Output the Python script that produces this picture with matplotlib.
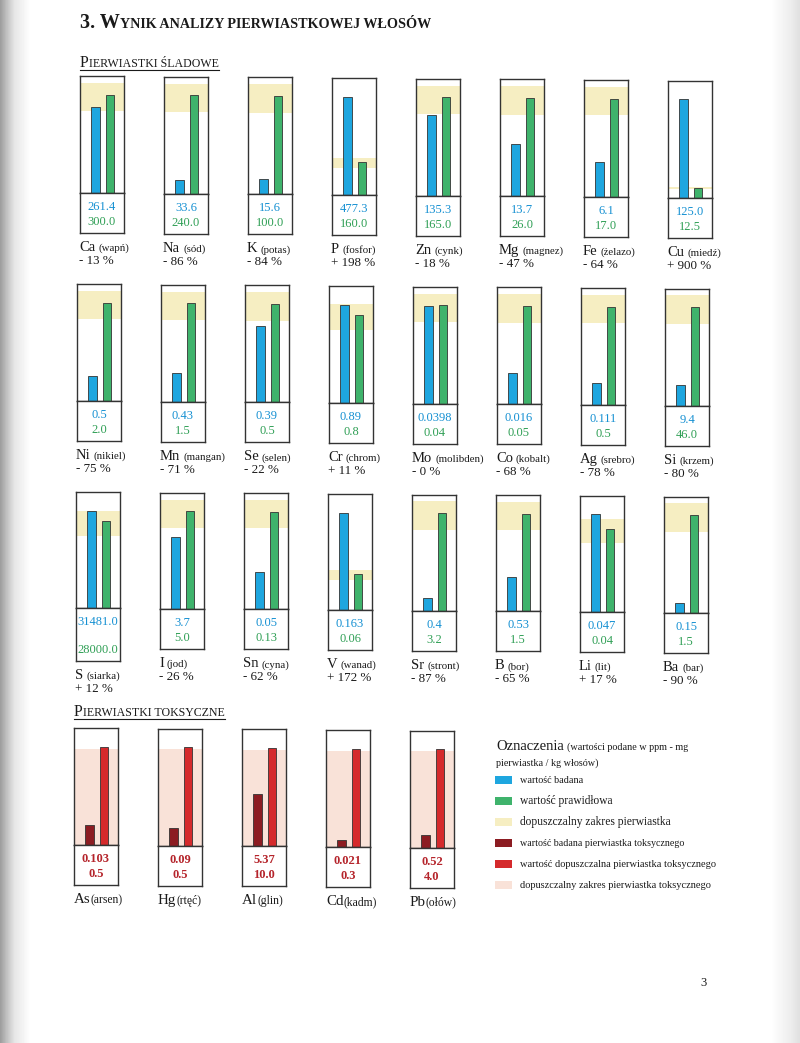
import numpy as np
import matplotlib
matplotlib.use("Agg")
import matplotlib.pyplot as plt
from matplotlib.lines import Line2D
from matplotlib.patches import Rectangle

# --- dane: pierwiastki śladowe (3 rzędy po 8) ---
trace_symbols = [
    ["Ca", "Na", "K", "P", "Zn", "Mg", "Fe", "Cu"],
    ["Ni", "Mn", "Se", "Cr", "Mo", "Co", "Ag", "Si"],
    ["S", "I", "Sn", "V", "Sr", "B", "Li", "Ba"],
]
trace_names = [
    ["wapń", "sód", "potas", "fosfor", "cynk", "magnez", "żelazo", "miedź"],
    ["nikiel", "mangan", "selen", "chrom", "molibden", "kobalt", "srebro", "krzem"],
    ["siarka", "jod", "cyna", "wanad", "stront", "bor", "lit", "bar"],
]
trace_measured = [
    ["261.4", "33.6", "15.6", "477.3", "135.3", "13.7", "6.1", "125.0"],
    ["0.5", "0.43", "0.39", "0.89", "0.0398", "0.016", "0.111", "9.4"],
    ["31481.0", "3.7", "0.05", "0.163", "0.4", "0.53", "0.047", "0.15"],
]
trace_normal = [
    ["300.0", "240.0", "100.0", "160.0", "165.0", "26.0", "17.0", "12.5"],
    ["2.0", "1.5", "0.5", "0.8", "0.04", "0.05", "0.5", "46.0"],
    ["28000.0", "5.0", "0.13", "0.06", "3.2", "1.5", "0.04", "1.5"],
]
trace_pct = [
    ["- 13 %", "- 86 %", "- 84 %", "+ 198 %", "- 18 %", "- 47 %", "- 64 %", "+ 900 %"],
    ["- 75 %", "- 71 %", "- 22 %", "+ 11 %", "- 0 %", "- 68 %", "- 78 %", "- 80 %"],
    ["+ 12 %", "- 26 %", "- 62 %", "+ 172 %", "- 87 %", "- 65 %", "+ 17 %", "- 90 %"],
]

# --- dane: pierwiastki toksyczne ---
tox_symbols = ["As", "Hg", "Al", "Cd", "Pb"]
tox_names = ["arsen", "rtęć", "glin", "kadm", "ołów"]
tox_measured = ["0.103", "0.09", "5.37", "0.021", "0.52"]
tox_normal = ["0.5", "0.5", "10.0", "0.3", "4.0"]

legend_labels = [
    "wartość badana",
    "wartość prawidłowa",
    "dopuszczalny zakres pierwiastka",
    "wartość badana pierwiastka toksycznego",
    "wartość dopuszczalna pierwiastka toksycznego",
    "dopuszczalny zakres pierwiastka toksycznego",
]

# kolory
BLUE = "#1ea6df"
GREEN = "#3fb36c"
YELLOW = "#f6eec2"
DRED = "#8c1c22"
RED = "#d52a2c"
PINK = "#f9e2d8"
TXT_BLUE = "#1590d2"
TXT_GREEN = "#2f9f55"
TXT_RED = "#b5242b"
EDGE = "#333333"
legend_colors = [BLUE, GREEN, YELLOW, DRED, RED, PINK]
legend_sizes = [7.3, 8.3, 8.3, 7.2, 7.5, 7.5]

SERIF = "Liberation Serif"
W, H = 800, 1043
BOX_W = 44
STEP = 84
SKEW = 0.65

fig = plt.figure(figsize=(W / 100, H / 100), dpi=100)
fig.patch.set_facecolor("white")
renderer = fig.canvas.get_renderer()

# lekki cień skanu po bokach
bg = fig.add_axes([0, 0, 1, 1], zorder=-10)
xs = np.arange(W)
shade = np.interp(xs, [0, 6, 14, 30, 770, 790, 799], [0.62, 0.75, 0.9, 1.0, 1.0, 0.93, 0.88])
bg.imshow(np.tile(shade, (2, 1)), cmap="gray", vmin=0, vmax=1, aspect="auto",
          extent=[0, 1, 0, 1])
bg.set_axis_off()


def put(x, y, s, size, color="#1a1a1a", weight="normal"):
    return fig.text(x / W, 1 - y / H, s, fontsize=size, color=color, family=SERIF,
                    ha="left", va="baseline", weight=weight)


def pieces(x, y, parts, gap=0, color="#1a1a1a", weight="normal"):
    for i, (s, size) in enumerate(parts):
        t = put(x, y, s, size, color=color, weight=weight)
        x += t.get_window_extent(renderer=renderer).width
        if i < len(parts) - 1:
            x += gap
    return x


def chart(x, top, div, bottom, meas_txt, norm_txt, toxic=False):
    m = float(meas_txt)
    n = float(norm_txt)
    ax = fig.add_axes([x / W, 1 - div / H, BOX_W / W, (div - top) / H])
    ymax = max(m, n) / 0.84
    ax.set_xlim(0, 1)
    ax.set_ylim(0, ymax)
    if toxic:
        ax.axhspan(0, n * 0.98, color=PINK, zorder=0, lw=0)
        cols = [DRED, RED]
    else:
        ax.axhspan(n * 0.83, min(n * 1.12, ymax), color=YELLOW, zorder=0, lw=0)
        cols = [BLUE, GREEN]
    ax.bar([0.35, 0.68], [m, n], width=0.2, color=cols, edgecolor=EDGE,
           linewidth=0.6, zorder=2)
    vb = fig.add_axes([x / W, 1 - bottom / H, BOX_W / W, (bottom - div) / H])
    for a in (ax, vb):
        a.set_xticks([])
        a.set_yticks([])
        for sp in a.spines.values():
            sp.set_color(EDGE)
            sp.set_linewidth(1.0)
    cx = (x + BOX_W / 2) / W
    c1, c2 = (TXT_RED, TXT_RED) if toxic else (TXT_BLUE, TXT_GREEN)
    wt = "bold" if toxic else "normal"
    for yy, s, c in ((div + 14, meas_txt, c1), (bottom - 11, norm_txt, c2)):
        fig.text(cx, 1 - yy / H, s, fontsize=9, color=c, family=SERIF,
                 ha="center", va="center", weight=wt)


# nagłówki
pieces(80, 28, [("3. W", 14.5), ("YNIK ANALIZY PIERWIASTKOWEJ WŁOSÓW", 10.2)],
       weight="bold")
end = pieces(80, 67, [("P", 11.5), ("IERWIASTKI ŚLADOWE", 8.6)])
fig.add_artist(Line2D([80 / W, end / W], [1 - 70 / H, 1 - 70 / H], color="#1a1a1a", lw=0.8))
end = pieces(74, 716, [("P", 11.5), ("IERWIASTKI TOKSYCZNE", 8.6)])
fig.add_artist(Line2D([74 / W, end / W], [1 - 719 / H, 1 - 719 / H], color="#1a1a1a", lw=0.8))

# rzędy wykresów śladowych
rows = [(80, 76, 193, 233), (77, 284, 401, 441), (76, 492, 608, 648)]
for r, (x0, top, div, bottom) in enumerate(rows):
    for c in range(8):
        dy = SKEW * c
        bot = bottom + dy
        if r == 2 and c == 0:
            bot += 13
        x = x0 + STEP * c
        chart(x, top + dy, div + dy, bot, trace_measured[r][c], trace_normal[r][c])
        pieces(x - 1, bot + 18, [(trace_symbols[r][c], 10.5), ("(" + trace_names[r][c] + ")", 7.8)], gap=3)
        put(x - 1, bot + 31, trace_pct[r][c], 9.4)

# wykresy toksyczne
for c in range(5):
    dy = SKEW * c
    x = 74 + STEP * c
    chart(x, 728 + dy, 845 + dy, 885 + dy, tox_measured[c], tox_normal[c], toxic=True)
    pieces(x, 903 + dy, [(tox_symbols[c], 10.8), ("(" + tox_names[c] + ")", 8.4)])

# legenda
pieces(496, 750, [("Oznaczenia", 10.5), ("(wartości podane w ppm - mg", 7.3)], gap=3)
put(496, 766, "pierwiastka / kg włosów)", 7.3)
for i, lab in enumerate(legend_labels):
    yc = 780 + 21 * i
    fig.add_artist(Rectangle((495 / W, 1 - (yc + 4) / H), 17 / W, 8 / H,
                             transform=fig.transFigure, color=legend_colors[i], lw=0))
    put(520, yc + 3, lab, legend_sizes[i])

put(700, 986, "3", 9)

fig.savefig("out.png", dpi=100)
